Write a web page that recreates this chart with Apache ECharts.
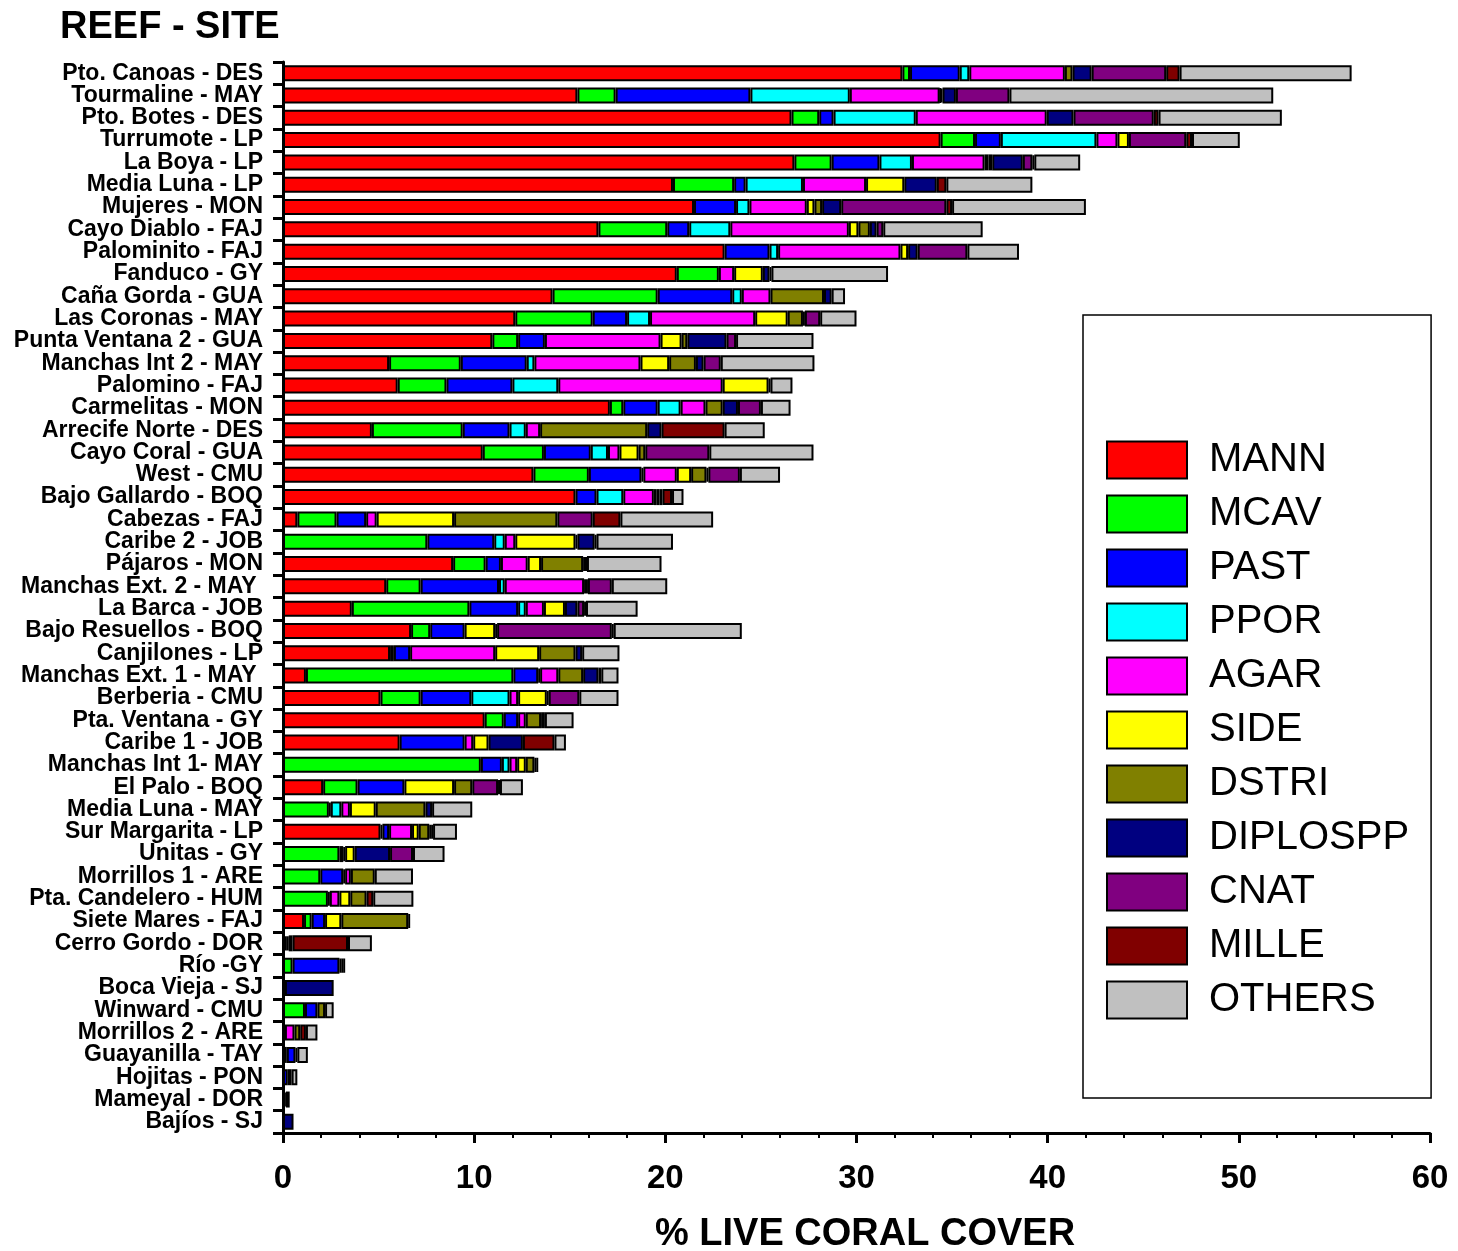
<!DOCTYPE html>
<html>
<head>
<meta charset="utf-8">
<title>REEF - SITE</title>
<script src="https://cdn.jsdelivr.net/npm/echarts@6/dist/echarts.min.js"></script>
<style>
  html, body { margin: 0; padding: 0; background: #fff; }
  #chart { width: 1458px; height: 1251px; }
</style>
</head>
<body>
<div id="chart"></div>
<script>
// sites, top to bottom
var sites = [
  'Pto. Canoas - DES', 'Tourmaline - MAY', 'Pto. Botes - DES', 'Turrumote - LP', 'La Boya - LP',
  'Media Luna - LP', 'Mujeres - MON', 'Cayo Diablo - FAJ', 'Palominito - FAJ', 'Fanduco - GY',
  'Caña Gorda - GUA', 'Las Coronas - MAY', 'Punta Ventana 2 - GUA', 'Manchas Int 2 - MAY', 'Palomino - FAJ',
  'Carmelitas - MON', 'Arrecife Norte - DES', 'Cayo Coral - GUA', 'West - CMU', 'Bajo Gallardo - BOQ',
  'Cabezas - FAJ', 'Caribe 2 - JOB', 'Pájaros - MON', 'Manchas Ext. 2 - MAY ', 'La Barca - JOB',
  'Bajo Resuellos - BOQ', 'Canjilones - LP', 'Manchas Ext. 1 - MAY ', 'Berberia - CMU', 'Pta. Ventana - GY',
  'Caribe 1 - JOB', 'Manchas Int 1- MAY', 'El Palo - BOQ', 'Media Luna - MAY', 'Sur Margarita - LP',
  'Unitas - GY', 'Morrillos 1 - ARE', 'Pta. Candelero - HUM', 'Siete Mares - FAJ', 'Cerro Gordo - DOR',
  'Río -GY', 'Boca Vieja - SJ', 'Winward - CMU', 'Morrillos 2 - ARE', 'Guayanilla - TAY',
  'Hojitas - PON', 'Mameyal - DOR', 'Bajíos - SJ'
];

// % cover per species (same order as sites)
var mann = [32.4, 15.4, 26.6, 34.4, 26.75, 20.4, 21.5, 16.5, 23.1, 20.6,
  14.1, 12.15, 10.95, 5.55, 6.0, 17.1, 4.65, 10.45, 13.1, 15.3,
  0.75, 0, 8.9, 5.4, 3.6, 6.7, 5.6, 1.2, 5.1, 10.55,
  6.1, 0, 2.1, 0, 5.1, 0, 0, 0, 1.1, 0,
  0, 0, 0, 0, 0, 0, 0, 0];
var mcav = [0.4, 2.0, 1.45, 1.8, 1.95, 3.2, 0, 3.6, 0, 2.2,
  5.5, 4.05, 1.35, 3.75, 2.55, 0.7, 4.75, 3.2, 2.9, 0,
  2.05, 7.55, 1.7, 1.8, 6.15, 1.0, 0.2, 10.85, 2.1, 1.0,
  0, 10.35, 1.8, 2.4, 0.1, 2.95, 1.95, 2.35, 0.4, 0,
  0.5, 0, 1.15, 0.1, 0.2, 0, 0, 0];
var past = [2.6, 7.05, 0.75, 1.35, 2.5, 0.6, 2.2, 1.15, 2.35, 0,
  3.9, 1.8, 1.4, 3.45, 3.45, 1.8, 2.45, 2.45, 2.75, 1.1,
  1.55, 3.5, 0.8, 4.1, 2.55, 1.8, 0.85, 1.3, 2.65, 0.75,
  3.4, 1.1, 2.45, 0.1, 0.35, 0.2, 1.2, 0.1, 0.7, 0.1,
  2.45, 0.1, 0.65, 0, 0.45, 0.25, 0.05, 0];
var ppor = [0.5, 5.2, 4.3, 5.0, 1.7, 3.0, 0.7, 2.15, 0.45, 0,
  0.5, 1.2, 0, 0.4, 2.4, 1.2, 0.85, 0.9, 0.1, 1.4,
  0, 0.55, 0, 0.3, 0.4, 0, 0, 0.1, 2.0, 0,
  0, 0.4, 0, 0.55, 0, 0, 0.1, 0, 0, 0,
  0, 0, 0, 0, 0, 0, 0, 0];
var agar = [5.0, 4.7, 6.85, 1.1, 3.8, 3.3, 3.0, 6.2, 6.4, 0.8,
  1.5, 5.5, 6.05, 5.55, 8.6, 1.3, 0.75, 0.6, 1.75, 1.6,
  0.55, 0.55, 1.4, 4.15, 0.95, 0, 4.45, 0.95, 0.45, 0.4,
  0.45, 0.4, 0, 0.45, 1.2, 0.1, 0.3, 0.5, 0, 0,
  0, 0, 0, 0.5, 0, 0, 0, 0];
var side = [0, 0.05, 0, 0.6, 0.2, 2.0, 0.4, 0.5, 0.4, 1.5,
  0, 1.7, 1.1, 1.5, 2.4, 0, 0, 1.0, 0.75, 0.15,
  4.05, 3.15, 0.7, 0, 1.1, 1.6, 2.3, 0, 1.5, 0,
  0.8, 0.45, 2.6, 1.35, 0.35, 0.5, 0, 0.57, 0.85, 0,
  0, 0, 0, 0, 0, 0, 0, 0];
var dstri = [0.4, 0.1, 0, 0, 0.2, 0, 0.4, 0.6, 0, 0,
  2.8, 0.8, 0.3, 1.4, 0, 0.9, 5.6, 0.35, 0.8, 0.15,
  5.4, 0.1, 2.2, 0.1, 0, 0, 1.9, 1.3, 0, 0.8,
  0, 0.45, 0.95, 2.6, 0.55, 0, 1.25, 0.85, 3.5, 0.1,
  0, 0, 0.4, 0.3, 0, 0, 0, 0];
var diplo = [1.0, 0.7, 1.4, 0, 1.6, 1.7, 1.0, 0.35, 0.5, 0.35,
  0.4, 0.1, 2.05, 0.4, 0.1, 0.8, 0.75, 0, 0.1, 0.15,
  0, 0.9, 0.1, 0.1, 0.65, 0.1, 0.35, 0.8, 0.1, 0,
  1.8, 0.1, 0, 0.35, 0.1, 1.85, 0, 0, 0.1, 0.1,
  0.1, 2.55, 0, 0, 0.1, 0.2, 0.1, 0.55];
var cnat = [3.9, 2.8, 4.2, 3.0, 0.5, 0, 5.5, 0.35, 2.6, 0.1,
  0, 0.8, 0.5, 0.9, 0, 1.2, 0, 3.35, 1.65, 0,
  1.85, 0.1, 0.1, 1.25, 0.35, 6.0, 0, 0.15, 1.6, 0,
  0, 0, 1.35, 0, 0.1, 1.2, 0, 0, 0, 0.2,
  0.1, 0, 0, 0, 0, 0, 0, 0];
var mille = [0.7, 0, 0.25, 0.3, 0.1, 0.5, 0.3, 0, 0, 0,
  0, 0, 0, 0, 0, 0, 3.3, 0, 0, 0.5,
  1.45, 0, 0, 0, 0.1, 0.1, 0, 0, 0, 0.2,
  1.65, 0, 0.1, 0, 0, 0, 0, 0.35, 0, 2.9,
  0, 0, 0, 0.3, 0, 0, 0, 0];
var others = [9.0, 13.8, 6.45, 2.5, 2.4, 4.5, 7.0, 5.2, 2.7, 6.1,
  0.7, 1.9, 4.05, 4.9, 1.15, 1.55, 2.1, 5.45, 2.1, 0.6,
  4.85, 4.0, 3.9, 2.9, 2.7, 6.7, 1.95, 0.9, 2.05, 1.5,
  0.6, 0.1, 1.2, 2.1, 1.25, 1.65, 2.0, 2.1, 0, 1.25,
  0.1, 0, 0.45, 0.6, 0.55, 0.3, 0.2, 0];

var species = ['MANN', 'MCAV', 'PAST', 'PPOR', 'AGAR', 'SIDE', 'DSTRI', 'DIPLOSPP', 'CNAT', 'MILLE', 'OTHERS'];
var speciesData = [mann, mcav, past, ppor, agar, side, dstri, diplo, cnat, mille, others];
var colors = ['#ff0000', '#00ff00', '#0000ff', '#00ffff', '#ff00ff', '#ffff00',
  '#808000', '#000080', '#800080', '#800000', '#c0c0c0'];

var FONT = '"Liberation Sans", Arial, Helvetica, sans-serif';

var chart = echarts.init(document.getElementById('chart'));

// one stacked series per species; empty cells are left out so no stray borders show
var series = species.map(function (name, i) {
  return {
    name: name,
    type: 'bar',
    stack: 'cover',
    barWidth: 16,
    data: speciesData[i].map(function (v) { return v > 0 ? v : '-'; }),
    itemStyle: {
      color: colors[i],
      borderColor: '#000',
      borderWidth: 2
    }
  };
});

var option = {
  animation: false,
  color: colors,
  title: [{
    text: 'REEF - SITE',
    left: 60,
    top: 9,
    padding: 0,
    textStyle: { fontFamily: FONT, fontSize: 38, fontWeight: 'bold', color: '#000' }
  }, {
    text: '% LIVE CORAL COVER',
    left: 655,
    top: 1216,
    padding: 0,
    textStyle: { fontFamily: FONT, fontSize: 38, fontWeight: 'bold', color: '#000' }
  }],
  legend: {
    orient: 'vertical',
    left: 1083,
    top: 315,
    padding: [125, 22, 78, 23],
    borderColor: '#000',
    borderWidth: 1.5,
    itemWidth: 80,
    itemHeight: 37,
    itemGap: 14,
    icon: 'rect',
    selectedMode: false,
    data: species,
    textStyle: { fontFamily: FONT, fontSize: 40, color: '#000', padding: [0, 0, 0, 17] }
  },
  grid: {
    left: 283,
    right: 28,
    top: 62,
    bottom: 118
  },
  xAxis: {
    type: 'value',
    min: 0,
    max: 60,
    interval: 10,
    axisLine: { show: true, lineStyle: { color: '#000', width: 3 } },
    axisTick: { show: true, length: 10, lineStyle: { color: '#000', width: 3 } },
    minorTick: { show: true, splitNumber: 5, length: 5, lineStyle: { color: '#000', width: 2 } },
    splitLine: { show: false },
    axisLabel: { fontFamily: FONT, fontSize: 33, fontWeight: 'bold', color: '#000', margin: 29 }
  },
  yAxis: {
    type: 'category',
    inverse: true,
    data: sites,
    axisLine: { show: true, lineStyle: { color: '#000', width: 3 } },
    axisTick: { show: true, length: 10, lineStyle: { color: '#000', width: 3 } },
    axisLabel: { fontFamily: FONT, fontSize: 23, fontWeight: 'bold', color: '#000', margin: 20, interval: 0 }
  },
  series: series
};

chart.setOption(option);
</script>
</body>
</html>
